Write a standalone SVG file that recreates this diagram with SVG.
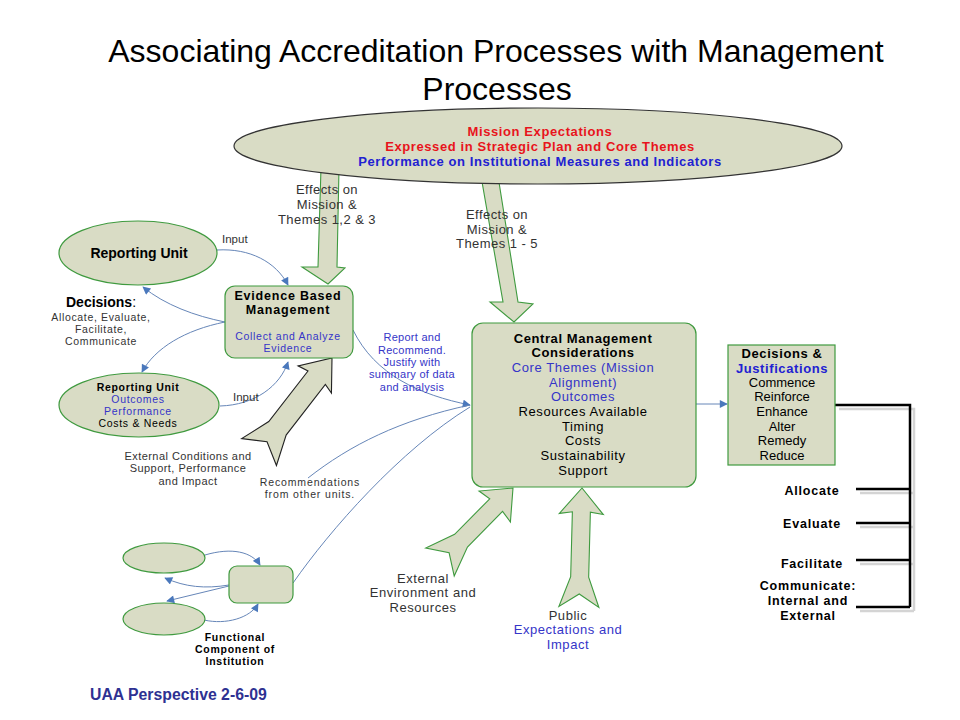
<svg xmlns="http://www.w3.org/2000/svg" width="960" height="720" viewBox="0 0 960 720">
<defs>
<style>
text{font-family:"Liberation Sans",Arial,sans-serif;}
.shape{fill:#d9dcc5;stroke:#3f9a3f;stroke-width:1.2;}
.barrow{fill:#d9dcc5;stroke:#3f9a3f;stroke-width:1.1;stroke-linejoin:miter;}
.conn{fill:none;stroke:#6686b8;stroke-width:1;}
.br{fill:none;stroke:#000;stroke-width:2.5;}
.brs{fill:none;stroke:#d4d4d4;stroke-width:2.5;}
.red{fill:#e8141c;}
.blue{fill:#2121d2;}
.lb{fill:#3535c8;}
.dk{fill:#333;}
</style>
<marker id="ah" viewBox="0 0 10 10" refX="9" refY="5" markerWidth="10" markerHeight="8" markerUnits="userSpaceOnUse" orient="auto"><path d="M0,0 L10,5 L0,10 z" fill="#4a78bc"/></marker>
</defs>
<rect width="960" height="720" fill="#fff"/>

<g id="title">
<text x="496" y="62" font-size="32" text-anchor="middle">Associating Accreditation Processes with Management</text>
<text x="497" y="100" font-size="32" text-anchor="middle">Processes</text>
</g>

<g id="block-arrows">
<polygon class="barrow" points="321,168 339,168 337,267 345,268 328,284 302,267 318,267"/>
<polygon class="barrow" points="481,176 498,176 518,302 533,304 514,322 490,302 503,302"/>
<path class="barrow" style="stroke:#222" transform="translate(332,358) rotate(37.8)" d="M0,0 L21,28 L11,25 L11,89 L22,119 L0,106 L-22,119 L-11,89 L-11,25 L-22,27 Z"/>
<path class="barrow" transform="translate(513,488) rotate(44.6)" d="M0,0 L22,26 L9,24 L9,74 L20,104 L0,91 L-20,104 L-9,74 L-9,24 L-22,26 Z"/>
<path class="barrow" transform="translate(582,488) rotate(1.5)" d="M0,0 L22,26 L9,24 L9,89 L20,119 L0,106 L-20,119 L-9,89 L-9,24 L-22,26 Z"/>
</g>

<g id="mission">
<ellipse cx="538" cy="146" rx="304" ry="38" fill="#d9dcc5" stroke="#333" stroke-width="1.2"/>
<g font-size="13" font-weight="bold" letter-spacing="0.6" text-anchor="middle">
<text x="540" y="136" class="red">Mission Expectations</text>
<text x="540" y="151" class="red">Expressed in Strategic Plan and Core Themes</text>
<text x="540" y="166" class="blue">Performance on Institutional Measures and Indicators</text>
</g>
</g>

<g id="effects-labels" font-size="13" letter-spacing="0.45" text-anchor="middle" class="dk">
<text x="327" y="194">Effects on</text>
<text x="327" y="209">Mission &amp;</text>
<text x="327" y="224">Themes 1,2 &amp; 3</text>
<text x="497" y="219">Effects on</text>
<text x="497" y="234">Mission &amp;</text>
<text x="497" y="248">Themes 1 - 5</text>
</g>

<g id="connectors">
<path class="conn" d="M217,250 C250,248 276,262 288,285" marker-end="url(#ah)"/>
<path class="conn" d="M225,322 C195,316 165,305 143,287" marker-end="url(#ah)"/>
<path class="conn" d="M225,322 C185,330 155,348 142,372" marker-end="url(#ah)"/>
<path class="conn" d="M220,406 C255,405 280,386 288,362" marker-end="url(#ah)"/>
<path class="conn" d="M353,330 C375,375 420,395 470,405" marker-end="url(#ah)"/>
<path class="conn" d="M308,478 C350,445 400,420 470,405"/>
<path class="conn" d="M293,583 C330,530 400,450 470,407"/>
<path class="conn" d="M696,404 L727,404" marker-end="url(#ah)"/>
<path class="conn" d="M205,555 C232,547 252,552 260,565" marker-end="url(#ah)"/>
<path class="conn" d="M229,585 C205,589 185,587 165,578" marker-end="url(#ah)"/>
<path class="conn" d="M229,586 L167,601" marker-end="url(#ah)"/>
<path class="conn" d="M204,620 C226,625 250,618 258,604" marker-end="url(#ah)"/>
<path class="brs" d="M839,409 L914,409 L914,611 M860,493 L914,493 M860,527 L914,527 M860,564 L914,564 M860,611 L914,611"/>
<path class="br" d="M835,405 L910,405 L910,607 M856,489 L910,489 M856,523 L910,523 M856,560 L910,560 M856,607 L910,607"/>
</g>

<g id="reporting-unit">
<ellipse class="shape" cx="138" cy="253" rx="79" ry="32"/>
<text x="139" y="258" font-size="14" font-weight="bold" text-anchor="middle">Reporting Unit</text>
</g>
<text x="222" y="243" font-size="11.5" class="dk">Input</text>

<g id="decisions-left" text-anchor="middle">
<text x="101" y="307" font-size="14"><tspan font-weight="bold">Decisions</tspan>:</text>
<g font-size="10.5" letter-spacing="0.65" class="dk">
<text x="101" y="321">Allocate, Evaluate,</text>
<text x="101" y="333">Facilitate,</text>
<text x="101" y="345">Communicate</text>
</g>
</g>

<g id="evidence">
<rect class="shape" x="225" y="286" width="128" height="72" rx="10"/>
<g font-size="12.5" font-weight="bold" letter-spacing="0.8" text-anchor="middle">
<text x="288" y="300">Evidence Based</text>
<text x="288" y="314">Management</text>
</g>
<g font-size="10.5" letter-spacing="0.7" text-anchor="middle" class="lb">
<text x="288" y="340">Collect and Analyze</text>
<text x="288" y="352">Evidence</text>
</g>
</g>

<g id="reporting-unit-2" font-size="10.5" letter-spacing="0.7" text-anchor="middle">
<ellipse class="shape" cx="139" cy="405" rx="80" ry="32"/>
<text x="138" y="391" font-weight="bold">Reporting Unit</text>
<text x="138" y="403" class="lb">Outcomes</text>
<text x="138" y="415" class="lb">Performance</text>
<text x="138" y="427">Costs &amp; Needs</text>
</g>
<text x="233" y="401" font-size="11.5" class="dk">Input</text>

<g id="report-label" font-size="11" letter-spacing="0.27" text-anchor="middle" class="lb">
<text x="412" y="341">Report and</text>
<text x="412" y="354">Recommend.</text>
<text x="412" y="366">Justify with</text>
<text x="412" y="378">summary of data</text>
<text x="412" y="391">and analysis</text>
</g>

<g id="ext-conditions-label" text-anchor="middle" class="dk">
<g font-size="11" letter-spacing="0.45">
<text x="188" y="460">External Conditions and</text>
<text x="188" y="472">Support, Performance</text>
<text x="188" y="485">and Impact</text>
</g>
<g font-size="10.5" letter-spacing="0.85">
<text x="310" y="486">Recommendations</text>
<text x="310" y="498">from other units.</text>
</g>
</g>

<g id="central">
<rect class="shape" x="472" y="323" width="224" height="164" rx="11"/>
<g font-size="13" letter-spacing="0.6" text-anchor="middle">
<text x="583" y="343" font-weight="bold">Central Management</text>
<text x="583" y="357" font-weight="bold">Considerations</text>
<text x="583" y="372" class="lb">Core Themes (Mission</text>
<text x="583" y="387" class="lb">Alignment)</text>
<text x="583" y="401" class="lb">Outcomes</text>
<text x="583" y="416">Resources Available</text>
<text x="583" y="431">Timing</text>
<text x="583" y="445">Costs</text>
<text x="583" y="460">Sustainability</text>
<text x="583" y="475">Support</text>
</g>
</g>

<g id="decisions-box">
<rect class="shape" x="728" y="345" width="107" height="120"/>
<g font-size="13" text-anchor="middle">
<text x="782" y="358" font-weight="bold" letter-spacing="0.6">Decisions &amp;</text>
<text x="782" y="373" font-weight="bold" letter-spacing="0.6" class="blue">Justifications</text>
<text x="782" y="387">Commence</text>
<text x="782" y="401">Reinforce</text>
<text x="782" y="416">Enhance</text>
<text x="782" y="431">Alter</text>
<text x="782" y="445">Remedy</text>
<text x="782" y="460">Reduce</text>
</g>
</g>

<g id="decision-actions" font-size="12.5" font-weight="bold" letter-spacing="0.8" text-anchor="middle">
<text x="812" y="495">Allocate</text>
<text x="812" y="528">Evaluate</text>
<text x="812" y="568">Facilitate</text>
<text x="808" y="590">Communicate:</text>
<text x="808" y="605">Internal and</text>
<text x="808" y="620">External</text>
</g>

<g id="functional">
<ellipse class="shape" cx="164" cy="558" rx="41" ry="15"/>
<ellipse class="shape" cx="164" cy="619" rx="41" ry="16"/>
<rect class="shape" x="229" y="566" width="64" height="37" rx="8"/>
<g font-size="10.5" font-weight="bold" letter-spacing="0.75" text-anchor="middle">
<text x="235" y="641">Functional</text>
<text x="235" y="653">Component of</text>
<text x="235" y="665">Institution</text>
</g>
</g>

<g id="external-env-label" font-size="13" letter-spacing="0.55" text-anchor="middle">
<text x="423" y="583" class="dk">External</text>
<text x="423" y="597" class="dk">Environment and</text>
<text x="423" y="612" class="dk">Resources</text>
<text x="568" y="620" class="dk">Public</text>
<text x="568" y="634" class="lb">Expectations and</text>
<text x="568" y="649" class="lb">Impact</text>
</g>

<text id="footer" x="90" y="700" font-size="15.8" font-weight="bold" fill="#2e3192">UAA Perspective 2-6-09</text>
</svg>
